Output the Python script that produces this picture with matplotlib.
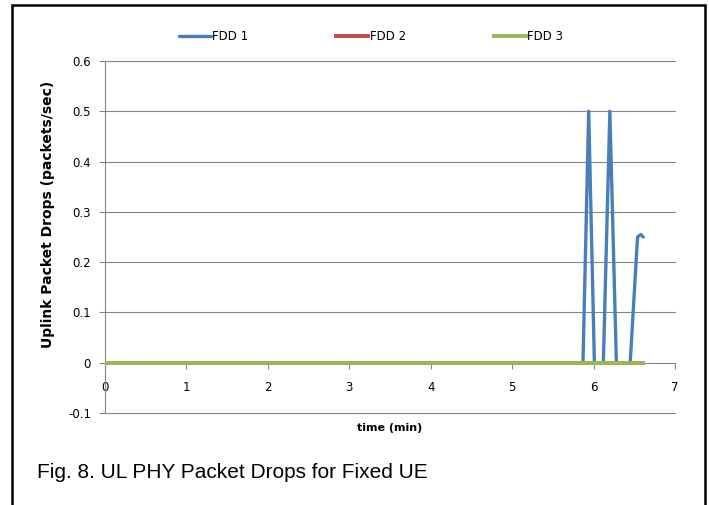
import matplotlib
matplotlib.use("Agg")
import matplotlib.pyplot as plt
from matplotlib.patches import Rectangle

# Data
fdd1_t = [0.0, 5.87, 5.94, 6.01, 6.12, 6.20, 6.28, 6.45, 6.54, 6.58, 6.61]
fdd1_v = [0.0, 0.0, 0.5, 0.0, 0.0, 0.5, 0.0, 0.0, 0.25, 0.255, 0.25]
fdd2_t = [0.0, 6.61]
fdd2_v = [0.0, 0.0]
fdd3_t = [0.0, 6.61]
fdd3_v = [0.0, 0.0]
series_labels = ["FDD 1", "FDD 2", "FDD 3"]
x_ticks = [0, 1, 2, 3, 4, 5, 6, 7]
y_ticks = [-0.1, 0, 0.1, 0.2, 0.3, 0.4, 0.5, 0.6]
y_ticklabels = ["-0.1", "0", "0.1", "0.2", "0.3", "0.4", "0.5", "0.6"]

W, H = 709, 505
fig = plt.figure(figsize=(W / 100, H / 100), dpi=100)
ax = fig.add_axes([105 / W, 1 - 413 / H, 570 / W, 352 / H])

grid_c = "#868686"
c1, c2, c3 = "#4A7EBB", "#BE4B48", "#98B954"

ax.plot(fdd1_t, fdd1_v, color=c1, lw=2.4, solid_joinstyle="round",
        solid_capstyle="round", label=series_labels[0], zorder=3)
ax.plot(fdd2_t, fdd2_v, color=c2, lw=2.8, label=series_labels[1], zorder=4)
ax.plot(fdd3_t, fdd3_v, color=c3, lw=2.8, label=series_labels[2], zorder=5)

ax.set_xlim(0, 7)
ax.set_ylim(-0.1, 0.6)
ax.set_yticks(y_ticks)
ax.set_yticklabels(y_ticklabels)
ax.set_xticks(x_ticks)
ax.set_xticklabels([str(v) for v in x_ticks])

for yv in y_ticks:
    if yv != 0:
        ax.axhline(yv, color=grid_c, lw=0.8, zorder=1, clip_on=False)

for s in ["top", "right"]:
    ax.spines[s].set_visible(False)
ax.spines["bottom"].set_position(("data", 0))
ax.spines["bottom"].set_color(grid_c)
ax.spines["left"].set_color(grid_c)
ax.spines["bottom"].set_linewidth(0.8)
ax.spines["left"].set_linewidth(0.8)

ax.tick_params(axis="x", direction="out", length=4, width=0.8, color=grid_c,
               pad=9, labelsize=8.5, labelcolor="black")
ax.tick_params(axis="y", direction="out", length=4, width=0.8, color=grid_c,
               pad=6, labelsize=8.5, labelcolor="black")

ax.set_ylabel("Uplink Packet Drops (packets/sec)", fontsize=10, fontweight="bold")
ax.yaxis.set_label_coords(-50 / 570, (413 - 214) / 352)
fig.text(390 / W, 1 - 428 / H, "time (min)", fontsize=8, fontweight="bold",
         ha="center", va="center")

leg = fig.legend(loc="center", bbox_to_anchor=(371 / W, 1 - 37 / H), ncol=3,
                 frameon=False, fontsize=8.5, handlelength=2.7,
                 handletextpad=0.1, columnspacing=7.5)

fig.text(37 / W, 1 - 472 / H, "Fig. 8. UL PHY Packet Drops for Fixed UE",
         fontsize=15, family="Liberation Sans", ha="left", va="center")

# outer border
fig.patches.append(Rectangle((12 / W, -0.05), (705 - 12) / W, 1.05 - 5 / H,
                             transform=fig.transFigure, fill=False,
                             edgecolor="black", lw=1.8))

fig.savefig("out.png", dpi=100)
